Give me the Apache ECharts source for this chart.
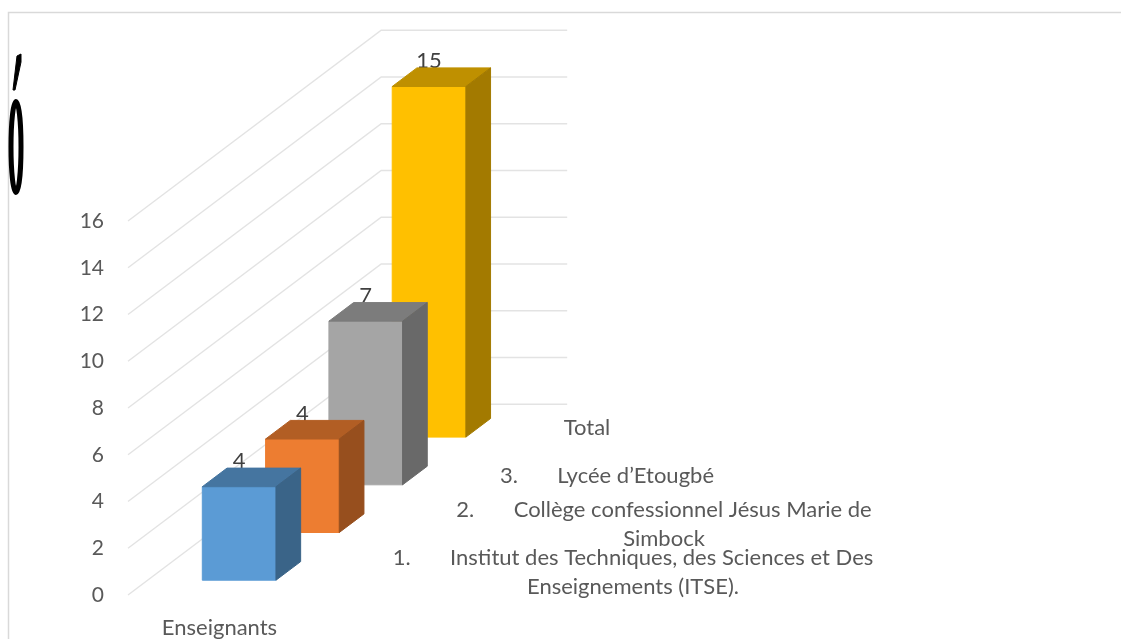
<!DOCTYPE html>
<html>
<head>
<meta charset="utf-8">
<style>
  html, body { margin: 0; padding: 0; background: #fff; }
  #chart { width: 1121px; height: 639px; }
</style>
<script src="https://cdn.jsdelivr.net/npm/echarts@6/dist/echarts.min.js"></script>
</head>
<body>
<div id="chart"></div>
<script>
// chart data
const categories = ['Enseignants']
const valueTicks = [0, 2, 4, 6, 8, 10, 12, 14, 16]
const depthNames = [
  '1.       Institut des Techniques, des Sciences et Des\nEnseignements (ITSE).',
  '2.       Collège confessionnel Jésus Marie de\nSimbock',
  '3.       Lycée d’Etougbé',
  'Total'
]
const teachers = [4, 4, 7, 15]

// face colours per depth: front, top, side
const frontColors = ['#5b9bd5', '#ed7d31', '#a5a5a5', '#ffc000']
const topColors = ['#4575a0', '#b25e24', '#7c7c7c', '#bf9000']
const sideColors = ['#3a6488', '#974f1e', '#696969', '#a37a00']

const FONT = 'Lato'
const TEXT_COLOR = '#595959'
const LABEL_COLOR = '#404040'

// oblique projection: one depth unit moves this many px
const DEPTH_X = 63.3
const DEPTH_Y = -47.7
const BAR_WIDTH = 0.198 // half width, share of the band
const BAR_SHIFT = -0.008
const BAR_FROM = 0.31
const BAR_TO = 0.7

function project(api, offset, value, depth) {
  const p = api.coord([0, value])
  const band = api.size([1, 0])[0]
  return [p[0] + offset * band + depth * DEPTH_X, p[1] + depth * DEPTH_Y]
}

function renderWall(params, api) {
  const v = api.value(0)
  return {
    type: 'polyline',
    shape: {
      points: [
        project(api, -0.5, v, 0),
        project(api, -0.5, v, depthNames.length),
        project(api, 0.5, v, depthNames.length)
      ]
    },
    style: { fill: 'none', stroke: '#e3e3e3', lineWidth: 1.4 }
  }
}

function renderBar(params, api) {
  const i = api.value(0)
  const v = api.value(1)
  const d0 = i + BAR_FROM
  const d1 = i + BAR_TO
  const left = BAR_SHIFT - BAR_WIDTH
  const right = BAR_SHIFT + BAR_WIDTH
  const fl = project(api, left, 0, d0)
  const fr = project(api, right, 0, d0)
  const tl = project(api, left, v, d0)
  const tr = project(api, right, v, d0)
  const bl = project(api, left, v, d1)
  const br = project(api, right, v, d1)
  const sb = project(api, right, 0, d1)
  const face = (points, fill) => ({
    type: 'polygon',
    shape: { points: points },
    style: { fill: fill, stroke: fill, lineWidth: 1 }
  })
  return {
    type: 'group',
    children: [
      {
        type: 'text',
        style: {
          x: (tl[0] + tr[0]) / 2,
          y: bl[1] + 4,
          text: String(v),
          align: 'center',
          verticalAlign: 'bottom',
          fontFamily: FONT,
          fontSize: 22,
          fill: LABEL_COLOR
        }
      },
      face([fl, fr, tr, tl], frontColors[i]),
      face([tl, tr, br, bl], topColors[i]),
      face([fr, sb, br, tr], sideColors[i])
    ]
  }
}

const depthLabelPos = [[633, 572], [664, 524], [607, 476], [587, 428]]

const option = {
  animation: false,
  backgroundColor: '#fff',
  textStyle: { fontFamily: FONT },
  grid: { left: 128, top: 221, width: 186, height: 374 },
  xAxis: {
    type: 'category',
    data: categories,
    axisLine: { show: false },
    axisTick: { show: false },
    axisLabel: { color: TEXT_COLOR, fontSize: 22, fontFamily: FONT, margin: 22, padding: [0, 3, 0, 0] }
  },
  yAxis: {
    type: 'value',
    min: 0,
    max: 16,
    interval: 2,
    axisLine: { show: false },
    axisTick: { show: false },
    splitLine: { show: false },
    axisLabel: { color: TEXT_COLOR, fontSize: 21, fontFamily: FONT, margin: 24, padding: [6, 0, 0, 0] }
  },
  series: [
    {
      type: 'custom',
      coordinateSystem: 'cartesian2d',
      renderItem: renderWall,
      silent: true,
      encode: { y: 0 },
      data: valueTicks.map((t) => [t]),
      z: 1
    },
    {
      type: 'custom',
      coordinateSystem: 'cartesian2d',
      renderItem: renderBar,
      encode: { y: 1 },
      // back to front so that the nearer bars cover the farther ones
      data: teachers.map((v, i) => [i, v]).reverse(),
      z: 2
    }
  ],
  graphic: [
    {
      type: 'polyline',
      shape: { points: [[8.5, 639], [8.5, 12.5], [1121, 12.5]] },
      style: { fill: 'none', stroke: '#d9d9d9', lineWidth: 1.5 }
    },
    {
      type: 'ellipse',
      shape: { cx: 16, cy: 147, rx: 5, ry: 45.5 },
      style: { fill: 'none', stroke: '#000', lineWidth: 5 }
    },
    {
      type: 'polygon',
      shape: { points: [[17, 56], [21, 54], [21, 62], [15, 90], [13, 90]] },
      style: { fill: '#000', stroke: '#000', lineWidth: 1 }
    },
    ...depthNames.map((name, i) => ({
      type: 'text',
      z: 5,
      style: {
        x: depthLabelPos[i][0],
        y: depthLabelPos[i][1],
        text: name,
        align: 'center',
        verticalAlign: 'middle',
        lineHeight: 29,
        fontFamily: FONT,
        fontSize: 22,
        fill: TEXT_COLOR
      }
    }))
  ]
}

const chart = echarts.init(document.getElementById('chart'))
chart.setOption(option)
</script>
</body>
</html>
